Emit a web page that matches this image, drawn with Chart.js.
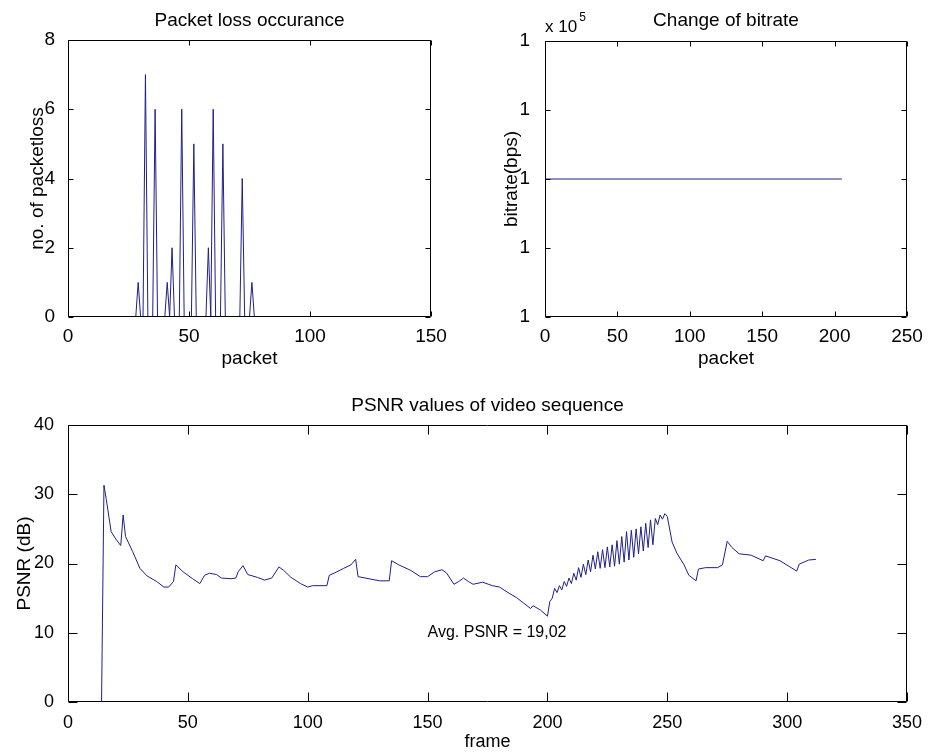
<!DOCTYPE html>
<html>
<head>
<meta charset="utf-8">
<title>Packet loss, bitrate and PSNR</title>
<script src="https://cdn.jsdelivr.net/npm/chart.js@4.4.1/dist/chart.umd.min.js"></script>
<style>
  html, body { margin: 0; padding: 0; background: #fff; }
  #wrap { position: relative; width: 933px; height: 755px; overflow: hidden; }
  canvas { position: absolute; }
</style>
</head>
<body>
<div id="wrap">
  <canvas id="lossChart" width="470" height="375" style="left:0;top:0"></canvas>
  <canvas id="bitrateChart" width="463" height="375" style="left:470px;top:0"></canvas>
  <canvas id="psnrChart" width="933" height="380" style="left:0;top:375px"></canvas>
</div>
<script>
// packet loss per packet (only the non-zero region and its zero neighbours)
const lossPackets = [1, 28, 29, 30, 31, 32, 33, 35, 36, 37, 40, 41, 42, 43, 44, 46, 47, 48, 51, 52, 53, 57, 58, 59, 60, 61, 63, 64, 65, 71, 72, 73, 75, 76, 77];
const lossCounts  = [0, 0, 1, 0, 0, 7, 0, 0, 6, 0, 0, 1, 0, 2, 0, 0, 6, 0, 0, 5, 0, 0, 2, 0, 6, 0, 0, 5, 0, 0, 4, 0, 0, 1, 0];

// bitrate stays flat over the whole run
const bitratePackets = [0, 205];
const bitrateValues  = [100000, 100000];

// PSNR per frame
const psnrFrames = [
  14, 15, 16, 18, 20, 22, 23, 24, 27, 30, 33, 37, 40, 42, 44, 45, 48, 52, 55, 57, 59, 62, 64, 68, 70, 71, 73, 75, 79, 82,
  85, 88, 90, 93, 97, 100, 102, 108, 109, 111, 115, 118, 120, 121, 130, 134, 135, 138, 143, 147, 150, 153, 156, 158, 161, 163, 165, 167, 169, 173,
  177, 180, 184, 187, 190, 193, 194, 197, 200, 201, 202, 203, 204, 205, 206, 207, 208, 209, 210, 211, 212, 213, 214, 215, 216, 217, 218, 219, 220, 221,
  222, 223, 224, 225, 226, 227, 228, 229, 230, 231, 232, 233, 234, 235, 236, 237, 238, 239, 240, 241, 242, 243, 244, 245, 246, 247, 248, 249, 250, 252,
  254, 257, 259, 262, 263, 266, 271, 273, 275, 277, 280, 285, 290, 291, 297, 304, 305, 309, 312
];
const psnrValues = [
  0, 31.3, 29.2, 24.6, 23.5, 22.6, 27.0, 23.9, 21.7, 19.3, 18.2, 17.4, 16.6, 16.6, 17.4, 19.8, 18.8, 17.8, 17.1, 18.3, 18.6, 18.4, 17.9, 17.8, 17.9, 18.8, 19.7, 18.4, 18.0, 17.6,
  17.9, 19.5, 19.0, 18.0, 17.1, 16.6, 16.8, 16.8, 18.3, 18.6, 19.3, 19.8, 20.6, 18.1, 17.5, 17.5, 20.4, 19.8, 19.0, 18.1, 18.1, 18.8, 19.1, 18.6, 17.0, 17.4, 17.9, 17.4, 17.0, 17.3,
  16.8, 16.6, 15.7, 15.1, 14.3, 13.5, 13.9, 13.3, 12.4, 14.5, 15.0, 16.4, 15.8, 16.8, 16.2, 17.4, 16.7, 17.9, 17.1, 18.6, 17.6, 19.4, 18.0, 19.9, 18.4, 20.5, 18.8, 21.2, 19.2, 21.7,
  19.3, 22.0, 19.4, 22.4, 19.5, 22.7, 19.6, 23.3, 19.9, 23.9, 20.2, 24.6, 20.5, 24.8, 20.9, 25.0, 21.4, 25.3, 21.8, 25.8, 22.3, 26.3, 22.7, 26.5, 25.6, 27.0, 26.4, 27.2, 26.8, 23.1,
  21.5, 19.8, 18.3, 17.5, 19.2, 19.4, 19.4, 19.8, 23.2, 22.3, 21.4, 21.2, 20.4, 21.1, 20.4, 18.9, 19.9, 20.5, 20.6
];

const FONT = "'Liberation Sans', Arial, Helvetica, sans-serif";
const NARROW = "'Liberation Sans Narrow', 'Arial Narrow', 'Liberation Sans', Arial, sans-serif";
const LINE_COLOR = '#1f1f8a';

Chart.defaults.font.family = FONT;
Chart.defaults.color = '#000';
Chart.defaults.animation = false;

const toPoints = (xs, ys) => xs.map((x, i) => ({ x, y: ys[i] }));
const fixWidth = w => scale => { scale.width = w; };
const fixHeight = h => scale => { scale.height = h; };

// MATLAB style box: frame around the plot area, inward ticks on all sides, title and notes
const matlabAxes = {
    id: 'matlabAxes',
    afterDraw(chart, args, opts) {
        const { ctx, chartArea: a, scales } = chart;
        const left = Math.round(a.left) + 0.5;
        const right = Math.round(a.right) - 0.5;
        const top = Math.round(a.top) + 0.5;
        const bottom = Math.round(a.bottom) - 0.5;
        const len = opts.tickLength || 5;

        ctx.save();
        ctx.strokeStyle = '#000';
        ctx.lineWidth = 1;
        ctx.beginPath();
        ctx.rect(left, top, right - left, bottom - top);
        scales.x.ticks.forEach(tk => {
            const px = Math.round(scales.x.getPixelForValue(tk.value)) + 0.5;
            ctx.moveTo(px, bottom); ctx.lineTo(px, bottom - len);
            ctx.moveTo(px, top); ctx.lineTo(px, top + len);
        });
        scales.y.ticks.forEach(tk => {
            const py = Math.round(scales.y.getPixelForValue(tk.value)) + 0.5;
            ctx.moveTo(left, py); ctx.lineTo(left + len, py);
            ctx.moveTo(right, py); ctx.lineTo(right - len, py);
        });
        ctx.stroke();

        ctx.fillStyle = '#000';
        if (opts.title) {
            ctx.font = `19px ${FONT}`;
            ctx.textAlign = 'center';
            ctx.textBaseline = 'alphabetic';
            ctx.fillText(opts.title, (a.left + a.right) / 2, opts.titleY);
        }
        if (opts.exponent) {
            ctx.font = `17px ${FONT}`;
            ctx.textAlign = 'left';
            ctx.fillText('x 10', a.left, 32);
            const w = ctx.measureText('x 10').width;
            ctx.font = `12px ${FONT}`;
            ctx.fillText(opts.exponent, a.left + w + 2, 21);
        }
        if (opts.note) {
            ctx.font = `16px ${FONT}`;
            ctx.textAlign = 'left';
            ctx.textBaseline = 'middle';
            ctx.fillText(opts.note.text, scales.x.getPixelForValue(opts.note.x), scales.y.getPixelForValue(opts.note.y));
        }
        ctx.restore();
    }
};

function lineDataset(points) {
    return {
        data: points,
        borderColor: LINE_COLOR,
        borderWidth: 1,
        pointRadius: 0,
        tension: 0,
        fill: false
    };
}

const hidden = { display: false };

new Chart(document.getElementById('lossChart'), {
    type: 'line',
    data: { datasets: [lineDataset(toPoints(lossPackets, lossCounts))] },
    options: {
        responsive: false,
        layout: { padding: { left: 0, top: 40, right: 39, bottom: 0 } },
        plugins: {
            legend: hidden,
            tooltip: { enabled: false },
            matlabAxes: { title: 'Packet loss occurance', titleY: 26, tickLength: 5 }
        },
        scales: {
            x: {
                type: 'linear', min: 0, max: 150,
                grid: hidden, border: hidden,
                ticks: { stepSize: 50, padding: 0, font: { size: 19 } },
                title: { display: true, text: 'packet', font: { size: 19 }, padding: { top: 0, bottom: 5 } },
                afterFit: fixHeight(58)
            },
            y: {
                min: 0, max: 8,
                grid: hidden, border: hidden,
                ticks: { stepSize: 2, padding: 5, font: { size: 19 } },
                title: { display: true, text: 'no. of packetloss', font: { size: 19 }, padding: { top: 26, bottom: 0 } },
                afterFit: fixWidth(68)
            }
        }
    },
    plugins: [matlabAxes]
});

new Chart(document.getElementById('bitrateChart'), {
    type: 'line',
    data: { datasets: [lineDataset(toPoints(bitratePackets, bitrateValues))] },
    options: {
        responsive: false,
        layout: { padding: { left: 0, top: 41, right: 26, bottom: 0 } },
        plugins: {
            legend: hidden,
            tooltip: { enabled: false },
            matlabAxes: { title: 'Change of bitrate', titleY: 26, tickLength: 5, exponent: '5' }
        },
        scales: {
            x: {
                type: 'linear', min: 0, max: 250,
                grid: hidden, border: hidden,
                ticks: { stepSize: 50, padding: 0, font: { size: 19 } },
                title: { display: true, text: 'packet', font: { size: 19 }, padding: { top: 0, bottom: 5 } },
                afterFit: fixHeight(58)
            },
            y: {
                min: 99999, max: 100001,
                grid: hidden, border: hidden,
                ticks: {
                    stepSize: 0.5, padding: 7, font: { size: 19 },
                    callback: value => String(Number((value / 1e5).toPrecision(4)))
                },
                title: { display: true, text: 'bitrate(bps)', font: { size: 19 }, padding: { top: 30, bottom: 0 } },
                afterFit: fixWidth(75)
            }
        }
    },
    plugins: [matlabAxes]
});

new Chart(document.getElementById('psnrChart'), {
    type: 'line',
    data: { datasets: [lineDataset(toPoints(psnrFrames, psnrValues))] },
    options: {
        responsive: false,
        layout: { padding: { left: 0, top: 50, right: 26, bottom: 0 } },
        plugins: {
            legend: hidden,
            tooltip: { enabled: false },
            matlabAxes: {
                title: 'PSNR values of video sequence', titleY: 36, tickLength: 9,
                note: { x: 150, y: 10, text: 'Avg. PSNR = 19,02' }
            }
        },
        scales: {
            x: {
                type: 'linear', min: 0, max: 350,
                grid: hidden, border: hidden,
                ticks: { stepSize: 50, padding: 2, font: { size: 18, family: NARROW } },
                title: { display: true, text: 'frame', font: { size: 18, family: NARROW }, padding: { top: 0, bottom: 2 } },
                afterFit: fixHeight(53)
            },
            y: {
                min: 0, max: 40,
                grid: hidden, border: hidden,
                ticks: { stepSize: 10, padding: 6, font: { size: 18 } },
                title: { display: true, text: 'PSNR (dB)', font: { size: 19 }, padding: { top: 13, bottom: 0 } },
                afterFit: fixWidth(68)
            }
        }
    },
    plugins: [matlabAxes]
});
</script>
</body>
</html>
